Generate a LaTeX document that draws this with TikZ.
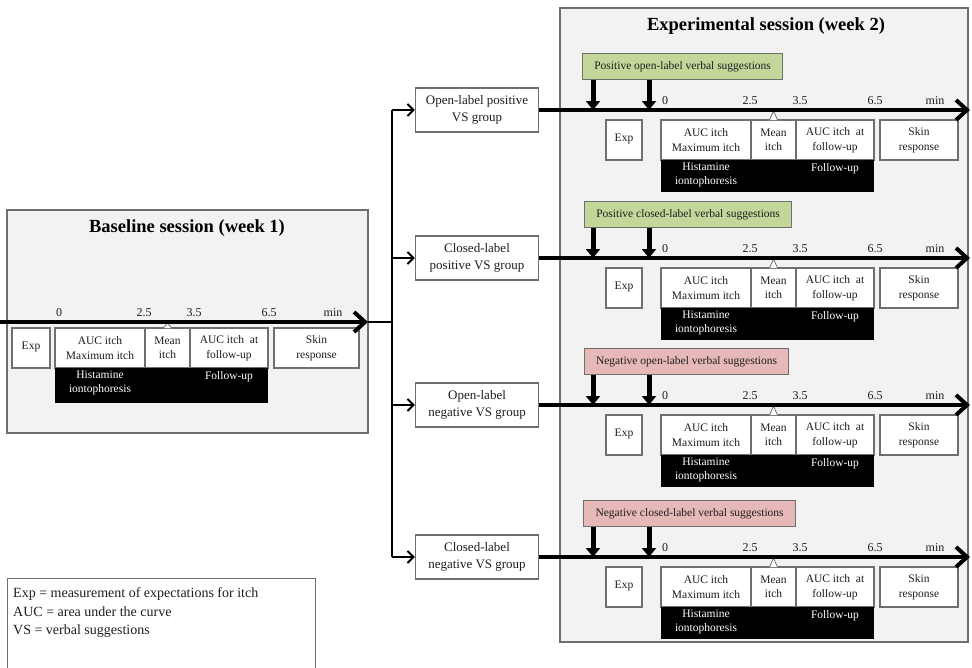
\documentclass[tikz,border=0pt]{standalone}
\usepackage{fontspec}
\setmainfont{Liberation Serif}
\usetikzlibrary{arrows.meta,calc}
\definecolor{sessbg}{HTML}{F2F2F2}
\definecolor{sessln}{HTML}{6F6F6F}
\definecolor{posg}{HTML}{C4D79B}
\definecolor{negp}{HTML}{E6B8B7}
\definecolor{txt}{HTML}{1E1E1E}
\newcommand{\fs}[2]{\fontsize{#1}{#2}\selectfont}
% #1 prefix, #2 AUC left x, #3 timeline y, #4 box top y, #5 bar height,
% #6 Exp left x, #7 Exp width, #8 Skin width, #9 min offset
\newcommand{\tlrow}[9]{%
  \node[cellbox, minimum width=#7] (#1exp) at (#6,#4) {\raisebox{5pt}{Exp}};
  \node[cellbox, minimum width=90] (#1auc) at (#2,#4) {AUC itch\\Maximum itch};
  \node[cellbox, minimum width=45] (#1mean) at (#1auc.north east) {Mean\\itch};
  \node[cellbox, minimum width=78] (#1aucf) at (#1mean.north east) {AUC itch\ \ at\\follow-up};
  \node[cellbox, minimum width=#8] (#1skin) at ([xshift=6pt]#1aucf.north east) {Skin\\response};
  \node[barbox, minimum height=#5] (#1bar) at (#1auc.south west) {};
  \node[bartext] (#1hist) at (#1auc.south) {Histamine\\iontophoresis};
  \node[bartext] (#1fol) at (#1aucf.south) {Follow-up};
  \draw[notch] ([xshift=-4pt]#1mean.north) -- (#1mean.north |- 0,#3+1) -- ([xshift=4pt]#1mean.north);
  \node[ticklab] (#1ta) at (#2+4,#3-4) {0};
  \node[ticklab] (#1tb) at (#2+89,#3-4) {2.5};
  \node[ticklab] (#1tc) at (#2+139,#3-4) {3.5};
  \node[ticklab] (#1td) at (#2+214,#3-4) {6.5};
  \node[ticklab] (#1te) at (#2+#9,#3-4) {min};
}
\begin{document}
\begin{tikzpicture}[x=1pt,y=-1pt,
  every node/.style={text=txt},
  sess/.style={draw=sessln, line width=1.2pt, fill=sessbg, anchor=north west, inner sep=0pt, outer sep=0pt},
  cellbox/.style={draw=sessln, line width=1.1pt, fill=white, anchor=north west, outer sep=0pt, inner sep=1pt, minimum height=40, align=center, font=\fs{11.5}{14.5}},
  barbox/.style={fill=black, anchor=north west, outer sep=0pt, inner sep=0pt, minimum width=213},
  bartext/.style={anchor=north, text=white, inner sep=1pt, yshift=-2pt, align=center, font=\fs{11.5}{13.5}},
  ticklab/.style={anchor=south, inner sep=1pt, font=\fs{12}{14}},
  notch/.style={draw=sessln, fill=white, line width=0.8pt},
  timeline/.style={line width=4pt, -{Straight Barb[length=11pt,width=20pt]}},
  grp/.style={draw=sessln, line width=1.2pt, fill=white, minimum width=123, minimum height=44, align=center, inner sep=1pt, font=\fs{13}{17}},
  grparrow/.style={line width=2pt, -{Straight Barb[length=6pt,width=12pt]}},
  branch/.style={line width=2pt},
  sug/.style={draw=sessln, line width=1.2pt, anchor=north west, minimum height=26, inner sep=1pt, font=\fs{11.5}{14}},
  downarrow/.style={line width=5pt, -{Triangle[length=9pt,width=14pt]}},
  sesstitle/.style={font=\bfseries\fs{18.5}{22}, text=black},
  legtext/.style={anchor=base west, inner sep=0pt, font=\fs{14}{16}}
]
\useasboundingbox (0,0) rectangle (972,667);

% session panels
\node[sess, minimum width=361, minimum height=223] (base) at (7,210) {};
\node[sess, minimum width=408, minimum height=634] (expt) at (560,8) {};
\node[sesstitle] (btitle) at (187,228) {Baseline session (week 1)};
\node[sesstitle] (etitle) at (766,26) {Experimental session (week 2)};

% baseline row
\tlrow{b}{55}{322}{328}{35}{12}{38}{85}{278}
\coordinate (bstart) at (0,322);
\coordinate (btip) at (368,322);
\draw[timeline] (bstart) -- (btip);

% groups
\node[grp] (g1) at (477,110) {Open-label positive\\VS group};
\node[grp] (g2) at (477,258) {Closed-label\\positive VS group};
\node[grp] (g3) at (477,405) {Open-label\\negative VS group};
\node[grp] (g4) at (477,557) {Closed-label\\negative VS group};

\coordinate (split) at (392,322);
\draw[branch] (btip) -- (split);
\draw[branch] (split |- g1.west) -- (split |- g4.west);
\draw[grparrow] (split |- g1.west) -- (g1.west);
\draw[grparrow] (split |- g2.west) -- (g2.west);
\draw[grparrow] (split |- g3.west) -- (g3.west);
\draw[grparrow] (split |- g4.west) -- (g4.west);

% experimental rows
\tlrow{ra}{661}{110}{120}{32}{606}{36}{78}{274}
\tlrow{rb}{661}{258}{268}{32}{606}{36}{78}{274}
\tlrow{rc}{661}{405}{415}{32}{606}{36}{78}{274}
\tlrow{rd}{661}{557}{567}{32}{606}{36}{78}{274}

\coordinate (e1) at (970,110);
\coordinate (e2) at (970,258);
\coordinate (e3) at (970,405);
\coordinate (e4) at (970,557);
\draw[timeline] (g1.east) -- (e1);
\draw[timeline] (g2.east) -- (e2);
\draw[timeline] (g3.east) -- (e3);
\draw[timeline] (g4.east) -- (e4);

% suggestion boxes
\node[sug, fill=posg, minimum width=200] (s1) at (582,53) {Positive open-label verbal suggestions};
\node[sug, fill=posg, minimum width=207] (s2) at (584,201) {Positive closed-label verbal suggestions};
\node[sug, fill=negp, minimum width=204] (s3) at (584,348) {Negative open-label verbal suggestions};
\node[sug, fill=negp, minimum width=212] (s4) at (583,500) {Negative closed-label verbal suggestions};

\foreach \s/\y in {1/110,2/258,3/405,4/557}{
  \coordinate (da\s) at (593,\y);
  \coordinate (db\s) at (649,\y);
  \draw[downarrow] (da\s |- s\s.south) -- (da\s);
  \draw[downarrow] (db\s |- s\s.south) -- (db\s);
}

% legend
\node[draw=sessln, line width=1pt, fill=white, anchor=north west, minimum width=308, minimum height=95, inner sep=0pt] (leg) at (7,578) {};
\node[legtext] (l1) at (13,597) {Exp = measurement of expectations for itch};
\node[legtext] (l2) at (13,616) {AUC = area under the curve};
\node[legtext] (l3) at (13,634) {VS = verbal suggestions};
\end{tikzpicture}
\end{document}
